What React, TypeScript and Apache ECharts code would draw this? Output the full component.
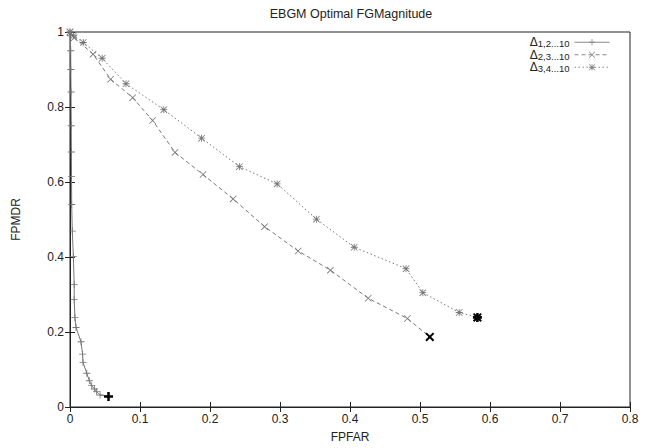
import React, { useEffect, useRef } from 'react';
import * as echarts from 'echarts';

const titleText = 'EBGM Optimal FGMagnitude';
const xAxisName = 'FPFAR';
const yAxisName = 'FPMDR';

const seriesNames = ['Δ1,2...10', 'Δ2,3...10', 'Δ3,4...10'];
const subscripts = ['1,2...10', '2,3...10', '3,4...10'];

const s1X = [0, 0.0005, 0.001, 0.0012, 0.0015, 0.0018, 0.002, 0.0022, 0.0024, 0.0033, 0.0048, 0.006, 0.006, 0.007, 0.0086, 0.0157, 0.018, 0.0186, 0.024, 0.0276, 0.031, 0.035, 0.038, 0.043, 0.055];
const s1Y = [1, 0.99, 0.95, 0.9, 0.84, 0.75, 0.68, 0.615, 0.54, 0.469, 0.401, 0.327, 0.287, 0.239, 0.212, 0.174, 0.141, 0.119, 0.09, 0.07, 0.057, 0.048, 0.041, 0.032, 0.028];

const s2X = [0, 0.006, 0.033, 0.058, 0.0895, 0.118, 0.15, 0.19, 0.233, 0.278, 0.326, 0.372, 0.426, 0.482, 0.514];
const s2Y = [1, 0.985, 0.941, 0.874, 0.825, 0.764, 0.679, 0.62, 0.555, 0.481, 0.416, 0.365, 0.29, 0.236, 0.187];

const s3X = [0, 0.005, 0.019, 0.046, 0.08, 0.134, 0.188, 0.242, 0.296, 0.352, 0.406, 0.48, 0.504, 0.556, 0.582];
const s3Y = [1, 0.99, 0.972, 0.93, 0.862, 0.793, 0.717, 0.641, 0.595, 0.501, 0.426, 0.369, 0.305, 0.252, 0.239];

const PLUS = 'M0 4.4H10V5.6H0ZM4.4 0H5.6V10H4.4Z';
const CROSS = 'M0 0.8L0.8 0L10 9.2L9.2 10ZM10 0.8L0.8 10L0 9.2L9.2 0Z';
const PLUS_B = 'M0 3.6H10V6.4H0ZM3.6 0H6.4V10H3.6Z';
const CROSS_B = 'M0 1.6L1.6 0L10 8.4L8.4 10ZM10 1.6L1.6 10L0 8.4L8.4 0Z';

const symbols = ['path://' + PLUS, 'path://' + CROSS, 'path://' + PLUS + CROSS];
const boldSymbols = ['path://' + PLUS_B, 'path://' + CROSS_B, 'path://' + PLUS_B + CROSS_B];
const lineTypes: any[] = ['solid', [4, 3], [1.5, 2.5]];

const FONT = '"Liberation Sans", Arial, Helvetica, sans-serif';

function buildData(xs: number[], ys: number[], idx: number) {
  return xs.map((x, i) =>
    i === xs.length - 1
      ? { value: [x, ys[i]], symbol: boldSymbols[idx], symbolSize: 9, itemStyle: { color: '#000' } }
      : [x, ys[i]]
  );
}

export default function App() {
  const ref = useRef<HTMLDivElement>(null);
  useEffect(() => {
    if (!ref.current) return;
    const chart = echarts.init(ref.current, null, { renderer: 'svg' });
    const allX = [s1X, s2X, s3X];
    const allY = [s1Y, s2Y, s3Y];
    const axisCommon = {
      axisLine: { show: true, lineStyle: { color: '#222', width: 1 } },
      axisTick: { show: true, inside: true, length: 5, lineStyle: { color: '#222' } },
      splitLine: { show: false },
    };
    chart.setOption({
      animation: false,
      backgroundColor: '#fff',
      textStyle: { fontFamily: FONT },
      graphic: [
        {
          type: 'text',
          x: 351,
          y: 14,
          style: { text: titleText, textAlign: 'center', textVerticalAlign: 'middle', fontSize: 12.5, fontFamily: FONT, fill: '#222' },
        },
      ],
      grid: { left: 70, right: 22, top: 32, bottom: 40, show: true, borderColor: '#222', borderWidth: 1 },
      legend: {
        orient: 'vertical',
        right: 37,
        top: 31,
        align: 'right',
        itemWidth: 35,
        itemHeight: 8,
        itemGap: 0,
        data: seriesNames,
        lineStyle: { color: '#888', width: 1 },
        itemStyle: { color: '#888', borderWidth: 0 },
        formatter: (name: string) => {
          const i = seriesNames.indexOf(name);
          return '{d|Δ}{s|' + subscripts[i] + '}';
        },
        textStyle: {
          color: '#222',
          rich: {
            d: { fontSize: 12, fontFamily: FONT, color: '#222', lineHeight: 12 },
            s: { fontSize: 9.5, fontFamily: FONT, color: '#222', lineHeight: 9, padding: [2.5, 0, 0, 0] },
          },
        },
      },
      xAxis: [
        {
          type: 'value',
          min: 0,
          max: 0.8,
          interval: 0.1,
          name: xAxisName,
          nameLocation: 'middle',
          nameGap: 24,
          nameTextStyle: { fontSize: 12, color: '#222', fontFamily: FONT },
          axisLabel: { fontSize: 12, color: '#222', margin: 6, fontFamily: FONT },
          ...axisCommon,
        },
        {
          type: 'value',
          position: 'top',
          min: 0,
          max: 0.8,
          interval: 0.1,
          axisLabel: { show: false },
          ...axisCommon,
        },
      ],
      yAxis: [
        {
          type: 'value',
          min: 0,
          max: 1,
          interval: 0.2,
          name: yAxisName,
          nameLocation: 'middle',
          nameGap: 48,
          nameTextStyle: { fontSize: 12, color: '#222', fontFamily: FONT },
          axisLabel: { fontSize: 12, color: '#222', margin: 6, fontFamily: FONT },
          ...axisCommon,
        },
        {
          type: 'value',
          position: 'right',
          min: 0,
          max: 1,
          interval: 0.2,
          axisLabel: { show: false },
          ...axisCommon,
        },
      ],
      series: seriesNames.map((name, i) => ({
        name,
        type: 'line',
        xAxisIndex: 0,
        yAxisIndex: 0,
        data: buildData(allX[i], allY[i], i),
        symbol: symbols[i],
        symbolSize: 7,
        showSymbol: true,
        showAllSymbol: true,
        lineStyle: { color: '#777', width: 1, type: lineTypes[i] },
        itemStyle: { color: '#777', borderWidth: 0 },
        emphasis: { disabled: true },
        z: 3 + i,
      })),
    });
    return () => chart.dispose();
  }, []);
  return <div ref={ref} style={{ position: 'fixed', left: 0, top: 0, width: 652, height: 448 }} />;
}
